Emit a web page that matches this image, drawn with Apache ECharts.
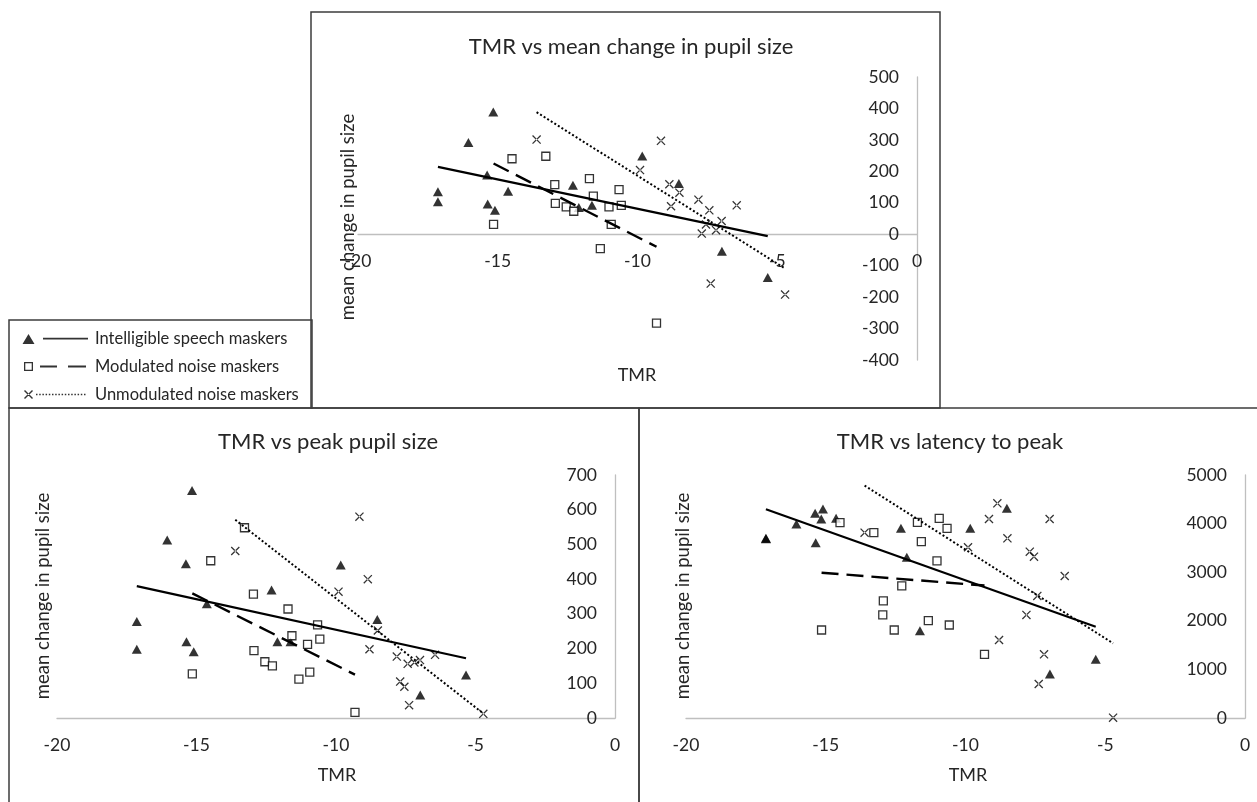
<!DOCTYPE html>
<html>
<head>
<meta charset="utf-8">
<script src="https://cdn.jsdelivr.net/npm/echarts@6/dist/echarts.min.js"></script>
<style>
html,body{margin:0;padding:0;background:#fff;}
#chart{width:1257px;height:802px;}
</style>
</head>
<body>
<div id="chart"></div>
<script>
// ---------- data ----------
const seriesNames = ['Intelligible speech maskers', 'Modulated noise maskers', 'Unmodulated noise maskers'];
const panelTitles = ['TMR vs mean change in pupil size', 'TMR vs peak pupil size', 'TMR vs latency to peak'];
const xTicks = [-20, -15, -10, -5, 0];

// TMR (x) per masker type
const tmrSpeech = [-17.14, -17.14, -16.05, -15.38, -15.36, -15.16, -15.10, -14.63, -12.31, -12.10, -11.63, -9.83, -8.52, -6.98, -5.34];
const tmrModulated = [-15.15, -14.49, -13.28, -12.96, -12.94, -12.55, -12.28, -11.72, -11.58, -11.33, -11.02, -10.94, -10.66, -10.58, -9.32];
const tmrUnmodulated = [-13.61, -9.91, -9.16, -8.86, -8.80, -8.50, -7.82, -7.70, -7.55, -7.43, -7.38, -7.19, -6.99, -6.45, -4.72];

// Panel 1: mean change in pupil size
const meanChangeSpeech = [135, 103, 292, 188, 96, 389, 76, 137, 156, 85, 92, 249, 161, -54, -138];
const meanChangeModulated = [31, 240, 248, 158, 98, 87, 73, 177, 121, -46, 87, 31, 142, 92, -283];
const meanChangeUnmodulated = [301, 204, 297, 159, 89, 132, 110, 2, 31, 76, -157, 13, 42, 92, -192];

// Panel 2: peak pupil size
const peakSpeech = [278, 198, 513, 444, 220, 655, 191, 329, 369, 220, 220, 441, 284, 66, 124];
const peakModulated = [127, 453, 548, 357, 194, 162, 150, 314, 237, 112, 212, 132, 268, 227, 16];
const peakUnmodulated = [481, 364, 580, 400, 198, 252, 177, 105, 90, 156, 37, 160, 167, 182, 12];

// Panel 3: latency to peak
const latencySpeech = [3700, 3690, 3993, 4212, 3608, 4095, 4301, 4109, 3902, 3307, 1797, 3902, 4315, 905, 1208];
const latencyModulated = [1811, 4020, 3814, 2120, 2408, 1811, 2717, 4027, 3630, 2003, 3231, 4109, 3902, 1914, 1311];
const latencyUnmodulated = [3814, 3513, 4095, 4418, 1605, 3698, 2120, 3423, 3320, 2511, 700, 1311, 4095, 2922, 6];

// Trend line end values (y at min TMR, y at max TMR)
const trendMeanChange = [[214, -6], [225, -40], [388, -109]];
const trendPeak = [[380, 172], [359, 125], [571, 13]];
const trendLatency = [[4295, 1879], [2990, 2725], [4781, 1537]];

// y axis ranges
const yMin = [-400, 0, 0];
const yMax = [500, 700, 5000];
const yInterval = [100, 100, 1000];

// ---------- presentation ----------
const FONT = 'Lato, "Open Sans", "DejaVu Sans", sans-serif';
const TXT = '#262626';
const AXIS = '#bfbfbf';

const tmrs = [tmrSpeech, tmrModulated, tmrUnmodulated];
const panelValues = [
  [meanChangeSpeech, meanChangeModulated, meanChangeUnmodulated],
  [peakSpeech, peakModulated, peakUnmodulated],
  [latencySpeech, latencyModulated, latencyUnmodulated]
];
const trends = [trendMeanChange, trendPeak, trendLatency];

const grids = [
  {left: 358, top: 77, width: 559, height: 283},
  {left: 57, top: 475, width: 558, height: 243},
  {left: 686, top: 475, width: 559, height: 243},
  // helper grid whose bottom edge is the y = 0 line of the top panel (carries that panel's x axis)
  {left: 358, top: 77, width: 559, height: 157}
];

const crossPath = 'path://M0 1 L1 0 L10 9 L9 10 Z M10 1 L9 0 L0 9 L1 10 Z';
const markerStyles = [
  {symbol: 'triangle', symbolSize: [10, 9], itemStyle: {color: '#000'}},
  {symbol: 'rect', symbolSize: 8, itemStyle: {color: '#fff', borderColor: '#000', borderWidth: 1.3}},
  {symbol: crossPath, symbolSize: 9, itemStyle: {color: '#000'}}
];
const lineStyles = [
  {color: '#000', width: 2.2, type: 'solid'},
  {color: '#000', width: 2.4, type: [17, 8]},
  {color: '#000', width: 2, type: [2, 2.2]}
];

// legend icons (68 x 12 box)
const BOX = 'M0 0 M68 12 ';
const iconSpeech = 'path://' + BOX + 'M0.5 11.5 L6.5 1.5 L12.5 11.5 Z M21 5.2 L66 5.2 L66 6.9 L21 6.9 Z';
const iconModulated = 'path://' + BOX +
  'M2 1.5 L11 1.5 L11 10.5 L2 10.5 Z M3.3 2.8 L3.3 9.2 L9.7 9.2 L9.7 2.8 Z ' +
  'M18 5.1 L35 5.1 L35 7 L18 7 Z M46 5.1 L64 5.1 L64 7 L46 7 Z';
let dots = '';
for (let x = 14; x <= 63; x += 3.2) {
  dots += 'M' + x.toFixed(1) + ' 5.3 L' + (x + 1.5).toFixed(1) + ' 5.3 L' + (x + 1.5).toFixed(1) + ' 6.8 L' + x.toFixed(1) + ' 6.8 Z ';
}
const iconUnmodulated = 'path://' + BOX +
  'M2 2.5 L3 1.5 L11 9.5 L10 10.5 Z M11 2.5 L10 1.5 L2 9.5 L3 10.5 Z ' + dots;
const legendIcons = [iconSpeech, iconModulated, iconUnmodulated];

const series = [];
for (let p = 0; p < 3; p++) {
  for (let s = 0; s < 3; s++) {
    series.push(Object.assign({
      type: 'scatter',
      name: seriesNames[s],
      xAxisIndex: p,
      yAxisIndex: p,
      data: tmrs[s].map((x, i) => [x, panelValues[p][s][i]]),
      z: 3,
      silent: true
    }, markerStyles[s]));
  }
}
for (let p = 0; p < 3; p++) {
  for (let s = 0; s < 3; s++) {
    const xs = tmrs[s];
    series.push({
      type: 'line',
      name: seriesNames[s],
      xAxisIndex: p,
      yAxisIndex: p,
      data: [[Math.min(...xs), trends[p][s][0]], [Math.max(...xs), trends[p][s][1]]],
      symbol: 'none',
      showSymbol: false,
      itemStyle: {color: '#000'},
      lineStyle: lineStyles[s],
      z: 4,
      silent: true
    });
  }
}

const titlePos = [[626, 42], [323, 437], [945, 437]];
const yNamePos = [[348, 217], [43, 596], [683, 596]];
const xNamePos = [[637, 375], [337, 775], [968, 775]];

const graphics = [
  {type: 'rect', shape: {x: 311, y: 12, width: 629, height: 396}},
  {type: 'rect', shape: {x: 9, y: 320, width: 303, height: 88}},
  {type: 'rect', shape: {x: 9, y: 408, width: 630, height: 410}},
  {type: 'rect', shape: {x: 639, y: 408, width: 630, height: 410}}
].map(r => Object.assign(r, {silent: true, style: {fill: 'none', stroke: '#3c3c3c', lineWidth: 1.5}, z: 10}));

for (let p = 0; p < 3; p++) {
  graphics.push({
    type: 'text', x: yNamePos[p][0], y: yNamePos[p][1], rotation: Math.PI / 2, silent: true,
    style: {text: 'mean change in pupil size', font: '18.5px ' + FONT, fill: TXT, align: 'center', verticalAlign: 'middle'}
  });
  graphics.push({
    type: 'text', x: xNamePos[p][0], y: xNamePos[p][1], silent: true,
    style: {text: 'TMR', font: '18px ' + FONT, fill: TXT, align: 'center', verticalAlign: 'middle'}
  });
}

const labelStyle = {fontSize: 17.5, color: TXT, margin: 18, fontFamily: FONT, formatter: v => String(v)};

const xAxes = [0, 1, 2, 3].map(g => ({
  type: 'value', gridIndex: g, min: xTicks[0], max: xTicks[xTicks.length - 1], interval: 5,
  axisLine: {show: g !== 0, onZero: false, lineStyle: {color: AXIS, width: 1.3}},
  axisTick: {show: false},
  splitLine: {show: false},
  axisLabel: Object.assign({show: g !== 0}, labelStyle)
}));
const yAxes = [0, 1, 2].map(p => ({
  type: 'value', gridIndex: p, min: yMin[p], max: yMax[p], interval: yInterval[p],
  position: 'right',
  axisLine: {show: true, onZero: false, lineStyle: {color: AXIS, width: 1.3}},
  axisTick: {show: false},
  splitLine: {show: false},
  axisLabel: Object.assign({inside: true}, labelStyle)
}));
yAxes.push({type: 'value', gridIndex: 3, min: 0, max: 1, show: false});

const option = {
  animation: false,
  backgroundColor: '#fff',
  textStyle: {fontFamily: FONT},
  title: panelTitles.map((t, p) => ({
    text: t,
    left: titlePos[p][0],
    top: titlePos[p][1],
    textAlign: 'center',
    textVerticalAlign: 'middle',
    textStyle: {fontSize: 22, fontWeight: 'normal', color: TXT, fontFamily: FONT}
  })),
  legend: {
    orient: 'vertical',
    left: 22,
    top: 330,
    padding: 0,
    itemWidth: 68,
    itemHeight: 12,
    itemGap: 11,
    selectedMode: false,
    textStyle: {fontSize: 16.5, color: TXT, fontFamily: FONT},
    data: seriesNames.map((n, i) => ({name: n, icon: legendIcons[i], itemStyle: {color: '#000', borderWidth: 0}}))
  },
  grid: grids,
  xAxis: xAxes,
  yAxis: yAxes,
  graphic: graphics,
  series: series
};

const chart = echarts.init(document.getElementById('chart'), null, {renderer: 'canvas'});
chart.setOption(option);
</script>
</body>
</html>
